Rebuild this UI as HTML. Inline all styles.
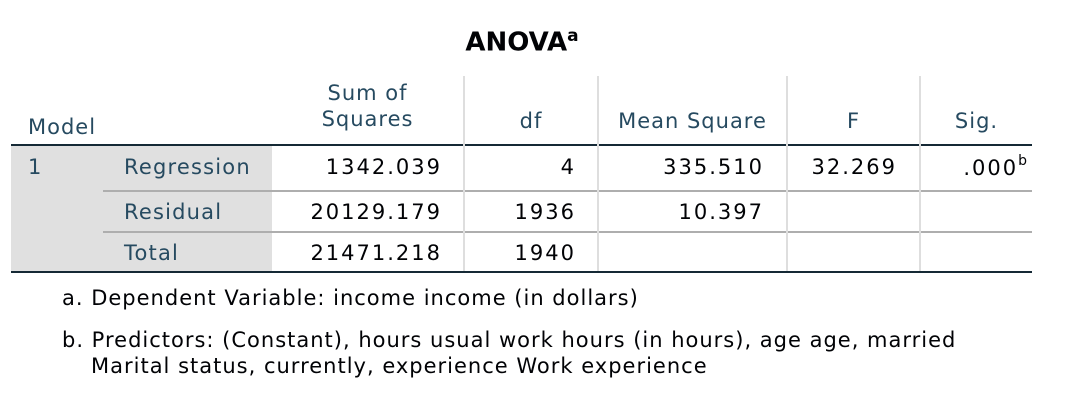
<!DOCTYPE html>
<html><head><meta charset="utf-8"><style>
body{margin:0;width:1088px;height:402px;background:#fff;font-family:"DejaVu Sans","Liberation Sans",sans-serif;position:relative;overflow:hidden}
.a{position:absolute;white-space:nowrap}
.h{color:#264a60;font-size:21px;letter-spacing:1px}
.n{color:#010205;font-size:21px;letter-spacing:2px}
.f{color:#010205;font-size:21px;letter-spacing:1px}
.r{text-align:right}
.c{text-align:center}
.ln{position:absolute}
</style></head><body>
<div class="a c" style="left:0;width:1044px;top:26px;font-size:26px;font-weight:bold;color:#010205">ANOVA<sup style="font-size:17px">a</sup></div>
<div class="ln" style="left:11px;top:146px;width:261px;height:126px;background:#e0e0e0"></div>
<div class="ln" style="left:11px;top:144px;width:1021px;height:2px;background:#152935"></div>
<div class="ln" style="left:103px;top:190px;width:929px;height:2px;background:#aeaeae"></div>
<div class="ln" style="left:103px;top:231px;width:929px;height:2px;background:#aeaeae"></div>
<div class="ln" style="left:11px;top:271px;width:1021px;height:2px;background:#152935"></div>
<div class="ln" style="left:463px;top:76px;width:2px;height:195px;background:#dedede"></div>
<div class="ln" style="left:597px;top:76px;width:2px;height:195px;background:#dedede"></div>
<div class="ln" style="left:786px;top:76px;width:2px;height:195px;background:#dedede"></div>
<div class="ln" style="left:919px;top:76px;width:2px;height:195px;background:#dedede"></div>

<div class="a h" style="left:28px;top:115px">Model</div>
<div class="a h c" style="left:272px;width:191px;top:80px;line-height:26px">Sum of<br>Squares</div>
<div class="a h c" style="left:465px;width:132px;top:109px">df</div>
<div class="a h c" style="left:599px;width:187px;top:109px">Mean Square</div>
<div class="a h c" style="left:788px;width:131px;top:109px">F</div>
<div class="a h c" style="left:921px;width:111px;top:109px">Sig.</div>

<div class="a h" style="left:28px;top:155px">1</div>
<div class="a h" style="left:124px;top:155px;letter-spacing:1.2px">Regression</div>
<div class="a h" style="left:124px;top:200px;letter-spacing:1.2px">Residual</div>
<div class="a h" style="left:124px;top:241px;letter-spacing:1.2px">Total</div>

<div class="a n r" style="left:272px;width:170px;top:155px">1342.039</div>
<div class="a n r" style="left:272px;width:170px;top:200px">20129.179</div>
<div class="a n r" style="left:272px;width:170px;top:241px">21471.218</div>
<div class="a n r" style="left:465px;width:111px;top:155px">4</div>
<div class="a n r" style="left:465px;width:111px;top:200px">1936</div>
<div class="a n r" style="left:465px;width:111px;top:241px">1940</div>
<div class="a n r" style="left:599px;width:165px;top:155px">335.510</div>
<div class="a n r" style="left:599px;width:165px;top:200px">10.397</div>
<div class="a n r" style="left:788px;width:109px;top:155px">32.269</div>
<div class="a n r" style="left:921px;width:108px;top:155px">.000<sup style="font-size:14px;position:relative;top:-2px">b</sup></div>

<div class="a f" style="left:62px;top:286px">a. Dependent Variable: income income (in dollars)</div>
<div class="a f" style="left:62px;top:327px;line-height:26px">b. Predictors: (Constant), hours usual work hours (in hours), age age, married<br><span style="padding-left:29px">Marital status, currently, experience Work experience</span></div>
</body></html>
